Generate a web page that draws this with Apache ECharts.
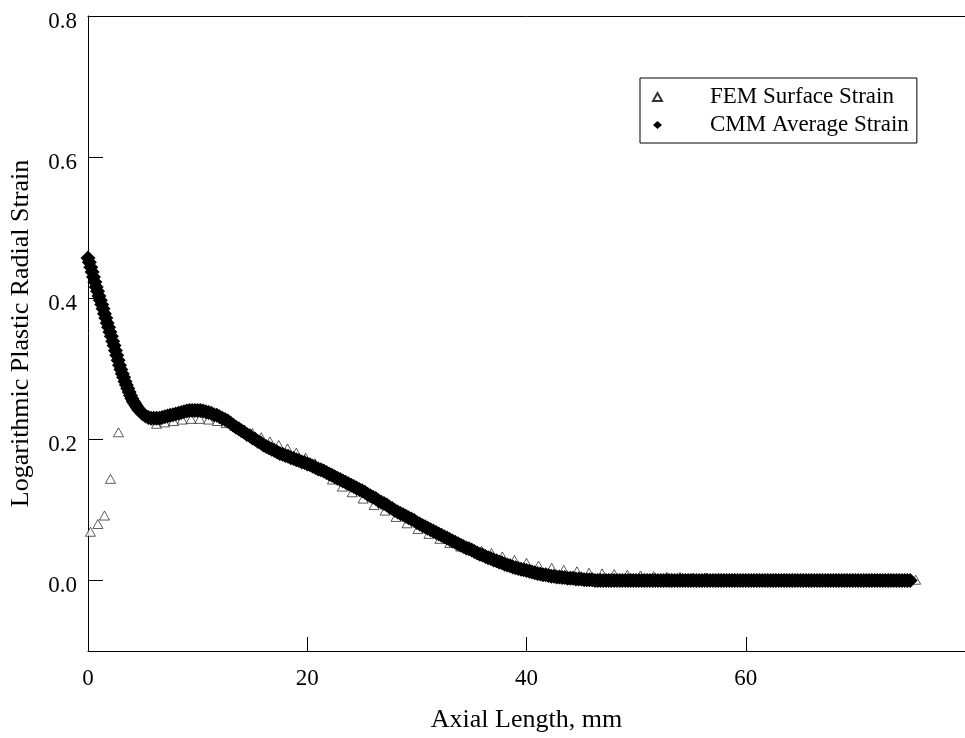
<!DOCTYPE html>
<html>
<head>
<meta charset="utf-8">
<script src="https://cdn.jsdelivr.net/npm/echarts@6/dist/echarts.min.js"></script>
<style>
  html, body { margin: 0; padding: 0; background: #fff; }
  #main { width: 965px; height: 738px; }
</style>
</head>
<body>
<div id="main"></div>
<script>
// FEM surface strain (hollow triangles)
var femX = [0.22, 0.9, 1.5, 2.05, 2.78,
  6.25, 7.0, 7.8, 8.6, 9.4, 10.2, 11.0, 11.8, 12.6, 13.4, 14.2, 15.0,
  15.8, 16.6, 17.4, 18.2, 19.0, 19.85, 20.7, 21.5,
  22.3, 23.2, 24.1, 25.1, 26.1, 27.1, 28.1, 29.1, 30.1, 31.1, 32.1, 33.0,
  34.0, 35.0, 35.9, 36.8, 37.8, 38.9, 40.0,
  41.1, 42.3, 43.4, 44.6, 45.7, 46.9, 48.0, 49.2, 50.4, 51.6,
  52.8, 54.0, 55.2, 56.4, 57.6, 58.8, 60.0,
  61.2, 62.4, 63.6, 64.8, 66.0, 67.2, 68.4, 69.6, 70.8, 72.0, 73.2, 74.4, 75.5];
var femY = [0.069, 0.080, 0.092, 0.144, 0.210,
  0.222, 0.224, 0.226, 0.228, 0.229, 0.229, 0.228, 0.226, 0.223, 0.219, 0.214, 0.209,
  0.203, 0.197, 0.192, 0.187, 0.181, 0.174, 0.166, 0.156,
  0.143, 0.133, 0.125, 0.116, 0.107, 0.099, 0.090, 0.081, 0.073, 0.066, 0.059, 0.053,
  0.048, 0.045, 0.042, 0.039, 0.034, 0.029, 0.025,
  0.021, 0.018, 0.015, 0.013, 0.011, 0.010, 0.009, 0.008, 0.007, 0.006,
  0.005, 0.005, 0.004, 0.004, 0.003, 0.003, 0.002,
  0.002, 0.002, 0.002, 0.002, 0.002, 0.001, 0.001, 0.001, 0.001, 0.001, 0.001, 0.001, 0.001];

// CMM average strain (filled diamonds): every 0.125 mm up to 5 mm, then every 0.25 mm
var cmmX = [
  0, 0.125, 0.25, 0.375, 0.5, 0.625, 0.75, 0.875, 1, 1.125, 1.25, 1.375, 1.5, 1.625, 1.75, 1.875,
  2, 2.125, 2.25, 2.375, 2.5, 2.625, 2.75, 2.875, 3, 3.125, 3.25, 3.375, 3.5, 3.625, 3.75, 3.875,
  4, 4.125, 4.25, 4.375, 4.5, 4.625, 4.75, 4.875,
  5, 5.25, 5.5, 5.75, 6, 6.25, 6.5, 6.75, 7, 7.25, 7.5, 7.75, 8, 8.25, 8.5, 8.75, 9, 9.25, 9.5, 9.75,
  10, 10.25, 10.5, 10.75, 11, 11.25, 11.5, 11.75, 12, 12.25, 12.5, 12.75, 13, 13.25, 13.5, 13.75, 14, 14.25, 14.5, 14.75,
  15, 15.25, 15.5, 15.75, 16, 16.25, 16.5, 16.75, 17, 17.25, 17.5, 17.75, 18, 18.25, 18.5, 18.75, 19, 19.25, 19.5, 19.75,
  20, 20.25, 20.5, 20.75, 21, 21.25, 21.5, 21.75, 22, 22.25, 22.5, 22.75, 23, 23.25, 23.5, 23.75, 24, 24.25, 24.5, 24.75,
  25, 25.25, 25.5, 25.75, 26, 26.25, 26.5, 26.75, 27, 27.25, 27.5, 27.75, 28, 28.25, 28.5, 28.75, 29, 29.25, 29.5, 29.75,
  30, 30.25, 30.5, 30.75, 31, 31.25, 31.5, 31.75, 32, 32.25, 32.5, 32.75, 33, 33.25, 33.5, 33.75, 34, 34.25, 34.5, 34.75,
  35, 35.25, 35.5, 35.75, 36, 36.25, 36.5, 36.75, 37, 37.25, 37.5, 37.75, 38, 38.25, 38.5, 38.75, 39, 39.25, 39.5, 39.75,
  40, 40.25, 40.5, 40.75, 41, 41.25, 41.5, 41.75, 42, 42.25, 42.5, 42.75, 43, 43.25, 43.5, 43.75, 44, 44.25, 44.5, 44.75,
  45, 45.25, 45.5, 45.75, 46, 46.25, 46.5, 46.75, 47, 47.25, 47.5, 47.75, 48, 48.25, 48.5, 48.75, 49, 49.25, 49.5, 49.75,
  50, 50.25, 50.5, 50.75, 51, 51.25, 51.5, 51.75, 52, 52.25, 52.5, 52.75, 53, 53.25, 53.5, 53.75, 54, 54.25, 54.5, 54.75,
  55, 55.25, 55.5, 55.75, 56, 56.25, 56.5, 56.75, 57, 57.25, 57.5, 57.75, 58, 58.25, 58.5, 58.75, 59, 59.25, 59.5, 59.75,
  60, 60.25, 60.5, 60.75, 61, 61.25, 61.5, 61.75, 62, 62.25, 62.5, 62.75, 63, 63.25, 63.5, 63.75, 64, 64.25, 64.5, 64.75,
  65, 65.25, 65.5, 65.75, 66, 66.25, 66.5, 66.75, 67, 67.25, 67.5, 67.75, 68, 68.25, 68.5, 68.75, 69, 69.25, 69.5, 69.75,
  70, 70.25, 70.5, 70.75, 71, 71.25, 71.5, 71.75, 72, 72.25, 72.5, 72.75, 73, 73.25, 73.5, 73.75, 74, 74.25, 74.5, 74.75,
  75];
var cmmY = [
  0.457, 0.451, 0.444, 0.437, 0.430, 0.423, 0.416, 0.410, 0.403, 0.397, 0.391, 0.385, 0.378, 0.372, 0.365, 0.359,
  0.352, 0.346, 0.339, 0.333, 0.326, 0.319, 0.312, 0.305, 0.299, 0.293, 0.288, 0.282, 0.277, 0.272, 0.267, 0.262,
  0.258, 0.254, 0.251, 0.248, 0.245, 0.242, 0.240, 0.238,
  0.236, 0.233, 0.231, 0.230, 0.230, 0.230, 0.230, 0.231, 0.232, 0.233, 0.234, 0.235, 0.236, 0.237, 0.238, 0.239, 0.240, 0.241, 0.241, 0.241,
  0.241, 0.241, 0.240, 0.239, 0.238, 0.237, 0.235, 0.234, 0.232, 0.230, 0.228, 0.226, 0.223, 0.220, 0.217, 0.215, 0.212, 0.210, 0.207, 0.205,
  0.202, 0.200, 0.197, 0.195, 0.192, 0.190, 0.188, 0.186, 0.184, 0.182, 0.180, 0.179, 0.177, 0.176, 0.174, 0.173, 0.171, 0.170, 0.168, 0.167,
  0.165, 0.164, 0.162, 0.160, 0.158, 0.157, 0.155, 0.153, 0.151, 0.149, 0.147, 0.145, 0.143, 0.141, 0.139, 0.137, 0.135, 0.133, 0.131, 0.129,
  0.127, 0.125, 0.122, 0.120, 0.118, 0.116, 0.113, 0.111, 0.109, 0.107, 0.104, 0.102, 0.099, 0.097, 0.095, 0.093, 0.091, 0.089, 0.087, 0.085,
  0.082, 0.080, 0.078, 0.076, 0.074, 0.072, 0.070, 0.068, 0.066, 0.064, 0.062, 0.060, 0.058, 0.056, 0.054, 0.052, 0.050, 0.048, 0.046, 0.045,
  0.043, 0.041, 0.039, 0.037, 0.036, 0.034, 0.032, 0.031, 0.029, 0.028, 0.026, 0.025, 0.023, 0.022, 0.021, 0.019, 0.018, 0.017, 0.016, 0.015,
  0.014, 0.013, 0.012, 0.011, 0.010, 0.009, 0.008, 0.008, 0.007, 0.006, 0.006, 0.005, 0.005, 0.004, 0.004, 0.003, 0.003, 0.003, 0.002, 0.002,
  0.002, 0.001, 0.001, 0.001, 0.001, 0, 0, 0, 0, 0, 0, 0, 0, 0, 0, 0, 0, 0, 0, 0,
  0, 0, 0, 0, 0, 0, 0, 0, 0, 0, 0, 0, 0, 0, 0, 0, 0, 0, 0, 0,
  0, 0, 0, 0, 0, 0, 0, 0, 0, 0, 0, 0, 0, 0, 0, 0, 0, 0, 0, 0,
  0, 0, 0, 0, 0, 0, 0, 0, 0, 0, 0, 0, 0, 0, 0, 0, 0, 0, 0, 0,
  0, 0, 0, 0, 0, 0, 0, 0, 0, 0, 0, 0, 0, 0, 0, 0, 0, 0, 0, 0,
  0, 0, 0, 0, 0, 0, 0, 0, 0, 0, 0, 0, 0, 0, 0, 0, 0, 0, 0, 0,
  0];

var yTicks = [0, 0.2, 0.4, 0.6, 0.8];
var xTicks = [0, 20, 40, 60];

function pairs(xs, ys) {
  var out = [];
  for (var i = 0; i < xs.length; i++) out.push([xs[i], ys[i]]);
  return out;
}

var serif = "'Liberation Serif', 'Times New Roman', serif";
var myChart = echarts.init(document.getElementById('main'));

var option = {
  animation: false,
  backgroundColor: '#fff',
  textStyle: { fontFamily: serif, color: '#000' },
  grid: { left: 88, top: 16, right: -7, bottom: 87 },
  legend: {
    left: 640, top: 78,
    orient: 'vertical',
    itemGap: 2,
    itemWidth: 9, itemHeight: 8,
    padding: [6, 8, 5, 12],
    borderColor: '#000', borderWidth: 1,
    textStyle: { fontFamily: serif, fontSize: 23, color: '#000', lineHeight: 26, padding: [0, 0, 0, 43] },
    data: ['FEM Surface Strain', 'CMM Average Strain']
  },
  xAxis: [{
    type: 'value', min: 0, max: 80,
    name: 'Axial Length, mm', nameLocation: 'middle', nameGap: 56,
    nameTextStyle: { fontFamily: serif, fontSize: 26, color: '#000' },
    axisLine: { show: true, onZero: false, lineStyle: { color: '#000', width: 1 } },
    axisTick: { show: true, inside: true, length: 14, customValues: xTicks, lineStyle: { color: '#000' } },
    axisLabel: { customValues: xTicks, margin: 16, fontFamily: serif, fontSize: 23, color: '#000' },
    splitLine: { show: false }
  }, {
    type: 'value', min: 0, max: 80, position: 'top',
    axisLine: { show: true, onZero: false, lineStyle: { color: '#000', width: 1 } },
    axisTick: { show: false }, axisLabel: { show: false }, splitLine: { show: false }
  }],
  yAxis: {
    type: 'value', min: -0.1, max: 0.8,
    name: 'Logarithmic Plastic Radial Strain', nameLocation: 'middle', nameGap: 54,
    nameTextStyle: { fontFamily: serif, fontSize: 26, color: '#000' },
    axisLine: { show: true, onZero: false, lineStyle: { color: '#000', width: 1 } },
    axisTick: { show: true, inside: true, length: 15, customValues: yTicks, lineStyle: { color: '#000' } },
    axisLabel: {
      customValues: yTicks, margin: 11, fontFamily: serif, fontSize: 23, color: '#000',
      verticalAlign: 'top', lineHeight: 12,
      formatter: function (v) { return v.toFixed(1); }
    },
    splitLine: { show: false }
  },
  series: [{
    name: 'FEM Surface Strain',
    type: 'scatter',
    symbol: 'triangle',
    symbolSize: [10, 9],
    itemStyle: { color: '#fff', borderColor: '#000', borderWidth: 0.8 },
    z: 2,
    data: pairs(femX, femY)
  }, {
    name: 'CMM Average Strain',
    type: 'scatter',
    symbol: 'diamond',
    symbolSize: 15,
    itemStyle: { color: '#000', opacity: 1 },
    z: 3,
    data: pairs(cmmX, cmmY)
  }]
};

myChart.setOption(option);
</script>
</body>
</html>
